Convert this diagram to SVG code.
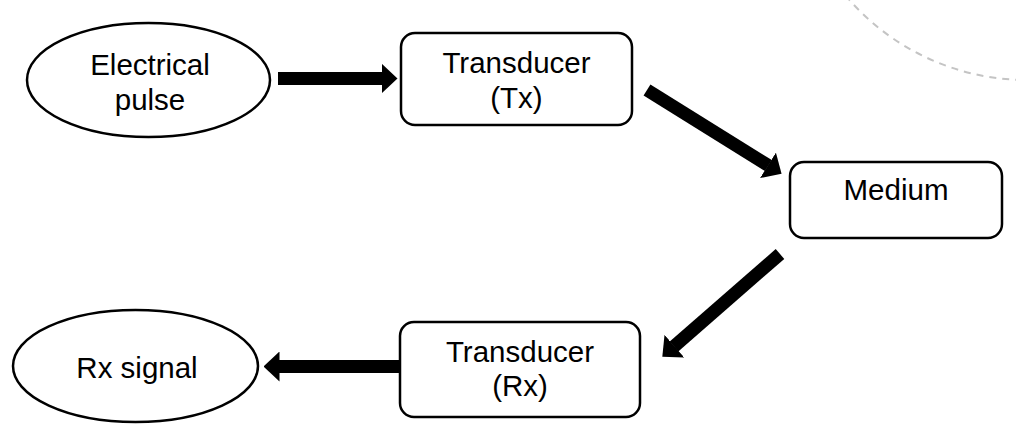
<svg xmlns="http://www.w3.org/2000/svg" width="1016" height="444" viewBox="0 0 1016 444">
<style>
.shape{fill:#fff;stroke:#000;stroke-width:2.5}
.lbl{font-family:"Liberation Sans",Arial,sans-serif;font-size:29.5px;fill:#000;text-anchor:middle}
.conn{stroke:#000;stroke-width:13;fill:none;marker-end:url(#head)}
</style>
<defs>
<marker id="head" markerUnits="userSpaceOnUse" viewBox="0 0 16 30" markerWidth="16" markerHeight="30" refX="0.5" refY="15" orient="auto">
<path d="M0,0 L16,15 L0,30 Z" fill="#000"/>
</marker>
</defs>
<circle cx="1027" cy="-157" r="237" fill="none" stroke="#c4c4c4" stroke-width="2" stroke-dasharray="7 6"/>
<g id="connectors">
<line class="conn" x1="278" y1="78.5" x2="382" y2="78.5"/>
<line class="conn" x1="647" y1="90" x2="768.4" y2="165.6"/>
<line class="conn" x1="780" y1="254" x2="674" y2="346.5"/>
<line class="conn" x1="400" y1="366.5" x2="279" y2="366.5"/>
</g>
<g id="electrical-pulse">
<ellipse class="shape" cx="148.5" cy="80" rx="121.5" ry="57"/>
<text class="lbl" x="150" y="75">Electrical</text>
<text class="lbl" x="150" y="110">pulse</text>
</g>
<g id="transducer-tx">
<rect class="shape" x="401" y="33" width="231" height="92" rx="14"/>
<text class="lbl" x="516.5" y="73">Transducer</text>
<text class="lbl" x="516.5" y="108">(Tx)</text>
</g>
<g id="medium">
<rect class="shape" x="790" y="162" width="212" height="76" rx="14"/>
<text class="lbl" x="896" y="200">Medium</text>
</g>
<g id="transducer-rx">
<rect class="shape" x="400" y="322" width="240" height="95" rx="14"/>
<text class="lbl" x="520" y="362">Transducer</text>
<text class="lbl" x="520" y="396">(Rx)</text>
</g>
<g id="rx-signal">
<ellipse class="shape" cx="135.5" cy="366" rx="122.5" ry="56"/>
<text class="lbl" x="137" y="378">Rx signal</text>
</g>
</svg>
